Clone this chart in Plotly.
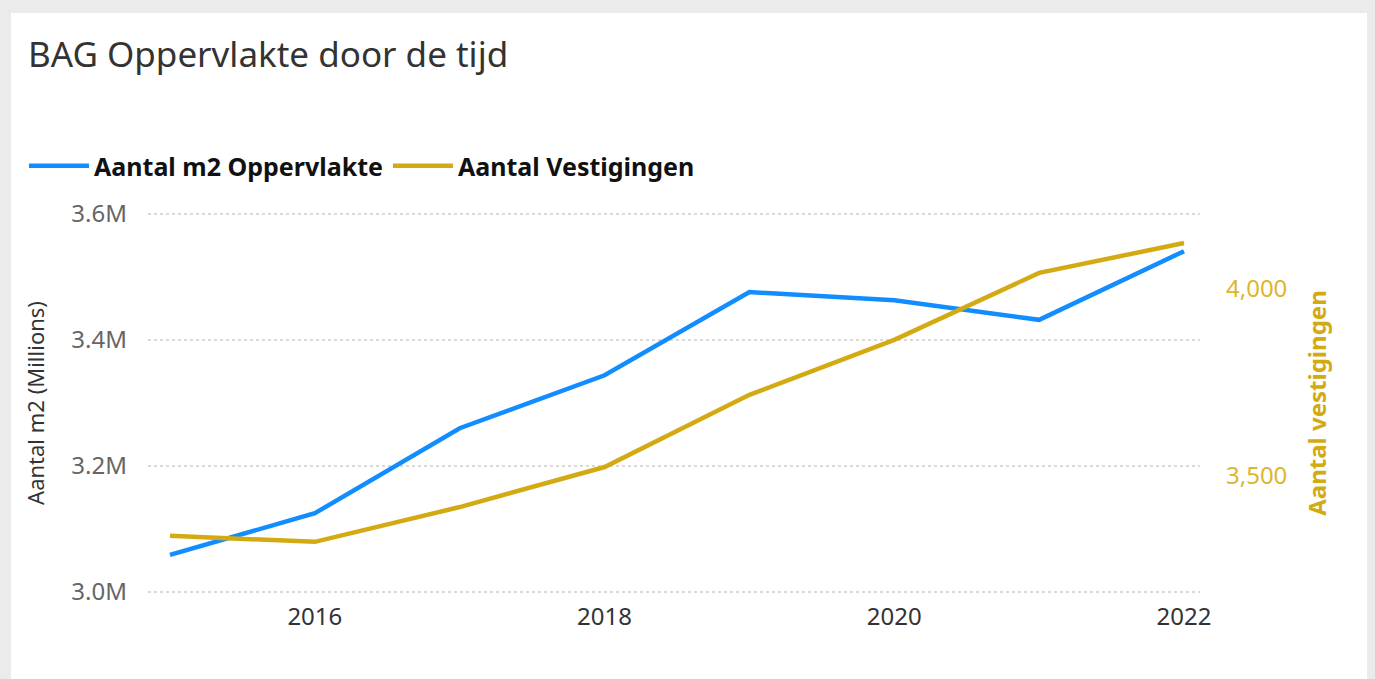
import plotly.graph_objects as go

years = [2015, 2016, 2017, 2018, 2019, 2020, 2021, 2022]
oppervlakte_m2 = [3059000, 3125000, 3260000, 3344000, 3476000, 3463000, 3432000, 3541000]
vestigingen = [3340, 3324, 3417, 3524, 3717, 3864, 4043, 4123]

x_ticks = [2016, 2018, 2020, 2022]
left_ticks = [3.0e6, 3.2e6, 3.4e6, 3.6e6]
left_ticktext = ["3.0M", "3.2M", "3.4M", "3.6M"]
right_ticks = [3500, 4000]
right_ticktext = ["3,500", "4,000"]

BLUE = "#118DFF"
GOLD = "#D4AA12"
GOLD_LIGHT = "#DDB62C"
FONT = "Noto Sans"

W, H = 1375, 679
ML, MR, MT, MB = 148, 175, 212, 85
PW, PH = W - ML - MR, H - MT - MB


def px(x):
    return (x - ML) / PW


def py(y):
    return (H - MB - y) / PH


fig = go.Figure()
fig.add_trace(go.Scatter(
    x=years, y=oppervlakte_m2, name="Aantal m2 Oppervlakte",
    mode="lines", line=dict(color=BLUE, width=4.5), yaxis="y"))
fig.add_trace(go.Scatter(
    x=years, y=vestigingen, name="Aantal Vestigingen",
    mode="lines", line=dict(color=GOLD, width=4.5), yaxis="y2"))

fig.update_layout(
    width=W, height=H,
    margin=dict(l=ML, r=MR, t=MT, b=MB, autoexpand=False),
    paper_bgcolor="#ebebeb",
    plot_bgcolor="rgba(0,0,0,0)",
    font=dict(family=FONT, color="#444"),
    title=dict(text="BAG Oppervlakte door de tijd", xref="container", yref="container",
               x=28 / W, xanchor="left", y=1 - 55 / H, yanchor="middle",
               font=dict(size=35, color="#333", family=FONT)),
    showlegend=True,
    legend=dict(orientation="h", x=px(24), xanchor="left", y=py(166), yanchor="middle",
                font=dict(size=25, color="#111", family=FONT, weight="bold"),
                bgcolor="rgba(0,0,0,0)", itemwidth=60, tracegroupgap=0),
    xaxis=dict(range=[2015 - 22 / 144.9, 2022 + 16 / 144.9], tickvals=x_ticks,
               showgrid=False, zeroline=False, showline=False, ticks="",
               ticklabelstandoff=6,
               tickfont=dict(size=24, color="#333", family=FONT)),
    yaxis=dict(range=[2.99683e6, 3.60317e6], tickvals=left_ticks, ticktext=left_ticktext,
               showgrid=True, gridcolor="#d9d9d9", griddash="dot", gridwidth=2,
               zeroline=False, showline=False, ticks="", ticklabelstandoff=20,
               tickfont=dict(size=24, color="#666", family=FONT),
               title=dict(text="Aantal m2 (Millions)", standoff=20,
                          font=dict(size=22, color="#333", family=FONT))),
    yaxis2=dict(range=[3184.5, 4205.9], overlaying="y", side="right",
                tickvals=right_ticks, ticktext=right_ticktext,
                showgrid=False, zeroline=False, showline=False, ticks="",
                ticklabelstandoff=25,
                tickfont=dict(size=24, color=GOLD_LIGHT, family=FONT),
                title=dict(text="Aantal vestigingen", standoff=22,
                           font=dict(size=24, color=GOLD, family=FONT, weight="bold"))),
    shapes=[dict(type="rect", xref="paper", yref="paper", layer="below",
                 x0=px(11), x1=px(1367), y0=py(H + 5), y1=py(13),
                 fillcolor="white", line=dict(width=0))],
)

fig.write_html("out.html", post_script="document.body.style.margin='0';",
               config={"displayModeBar": False})
